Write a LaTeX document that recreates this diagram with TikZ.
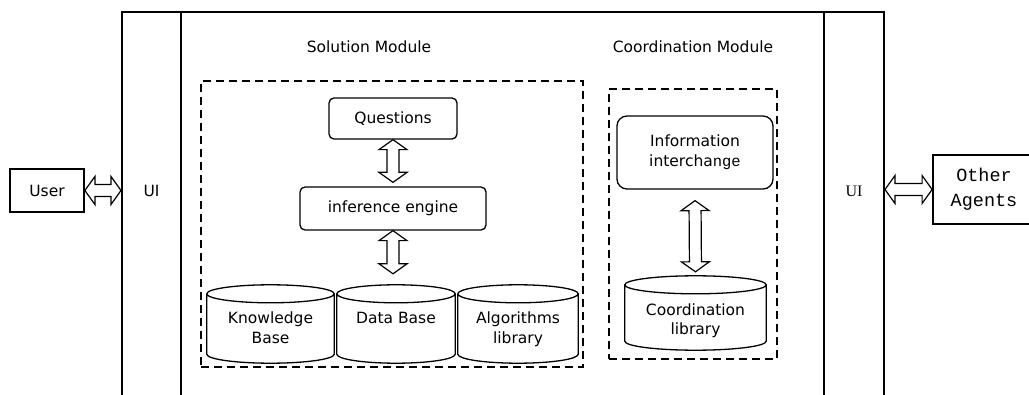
\documentclass[tikz,border=0pt]{standalone}
\usepackage{fontspec}
\setmainfont{DejaVu Sans}
\newfontfamily\simfont{Liberation Mono}
\newfontfamily\simserif{Liberation Serif}
\usetikzlibrary{calc}

\tikzset{
  frame/.style={draw, line width=2pt, inner sep=0pt},
  plainbox/.style={draw, line width=1.8pt, inner sep=0pt, fill=white},
  roundbox/.style={draw, line width=1.3pt, rounded corners=5pt, inner sep=0pt},
  dashbox/.style={draw, line width=1.6pt, dash pattern=on 8pt off 5pt, inner sep=0pt},
  cylbox/.style={inner sep=0pt},
  lbl/.style={font=\fontsize{15.5}{20}\selectfont, align=center, inner sep=0pt},
  cyltext/.style={lbl, anchor=north},
  cylline/.style={line width=1.3pt, fill=white},
  % hollow double-headed block arrow between two points
  barrow/.style={draw, line width=1.2pt, fill=white, line join=miter,
    to path={
      -- ($(\tikztostart)!10pt!(\tikztotarget)!14pt!90:(\tikztotarget)$)
      -- ($(\tikztostart)!10pt!(\tikztotarget)!6pt!90:(\tikztotarget)$)
      -- ($(\tikztotarget)!10pt!(\tikztostart)!6pt!-90:(\tikztostart)$)
      -- ($(\tikztotarget)!10pt!(\tikztostart)!14pt!-90:(\tikztostart)$)
      -- (\tikztotarget)
      -- ($(\tikztotarget)!10pt!(\tikztostart)!14pt!90:(\tikztostart)$)
      -- ($(\tikztotarget)!10pt!(\tikztostart)!6pt!90:(\tikztostart)$)
      -- ($(\tikztostart)!10pt!(\tikztotarget)!6pt!-90:(\tikztotarget)$)
      -- ($(\tikztostart)!10pt!(\tikztotarget)!14pt!-90:(\tikztotarget)$)
      -- cycle}},
}

% cylinder outline drawn over the bounding rectangle of a node
\newcommand\drawcyl[1]{%
  \draw[cylline] let \p1=(#1.north west), \p2=(#1.south east), \n1={(\x2-\x1)/2} in
    (\x1,\y1-9pt) -- (\x1,\y2+9pt)
    arc[start angle=180, end angle=360, x radius=\n1, y radius=9pt] -- (\x2,\y1-9pt)
    ({(\x1+\x2)/2},\y1-9pt) ellipse[x radius=\n1, y radius=9pt];}

\begin{document}
\begin{tikzpicture}[x=1pt, y=1pt]
\useasboundingbox (0,0) rectangle (1029,394);

% agent frame: two interface columns around the core
\node[frame, minimum width=59pt, minimum height=387pt] (uiL) at (151.5,188.5) {};
\node[frame, minimum width=643pt, minimum height=387pt] (core) at (502.5,188.5) {};
\node[frame, minimum width=60pt, minimum height=387pt] (uiR) at (854,188.5) {};
\node[lbl] (uiLt) at (151.5,203) {UI};
\node[lbl, font=\simserif\fontsize{16}{20}\selectfont] (uiRt) at (854,203) {UI};

% outside parties
\node[plainbox, lbl, minimum width=74pt, minimum height=43pt] (user) at (47,203.5) {User};
\node[plainbox, lbl, font=\simfont\fontsize{18.5}{25}\selectfont,
      minimum width=102pt, minimum height=69pt] (oa) at (984,204.5) {Other\\Agents};

\draw[barrow] (user.east) to (user.east -| uiL.west);
\draw[barrow] (oa.west -| uiR.east) to (oa.west);

% solution module
\node[lbl] (solt) at (369,347) {Solution Module};
\node[dashbox, minimum width=382pt, minimum height=286pt] (sol) at (392,170) {};
\node[roundbox, lbl, minimum width=128pt, minimum height=41pt] (q) at (393,275.5) {Questions};
\node[roundbox, lbl, minimum width=186pt, minimum height=43pt] (ie) at (393,185.5) {inference engine};

\node[cylbox, minimum width=127pt, minimum height=78pt] (kb) at (270.5,70) {};
\node[cylbox, minimum width=118pt, minimum height=78pt] (db) at (396,70) {};
\node[cylbox, minimum width=120pt, minimum height=78pt] (al) at (518,70) {};
\drawcyl{kb}
\drawcyl{db}
\drawcyl{al}
\node[cyltext] (kbt) at ($(kb.north)+(0,-27)$) {Knowledge\\Base};
\node[cyltext] (dbt) at ($(db.north)+(0,-27)$) {Data Base};
\node[cyltext] (alt) at ($(al.north)+(0,-27)$) {Algorithms\\library};

\coordinate (a1e) at ($(ie.north)+(0,4)$);
\coordinate (a2e) at ($(db.north -| ie.south)+(0,11)$);
\draw[barrow] (q.south) to (a1e);
\draw[barrow] (ie.south) to (a2e);

% coordination module
\node[lbl] (coot) at (693,347) {Coordination Module};
\node[dashbox, minimum width=168pt, minimum height=270pt] (coo) at (693,170) {};
\node[roundbox, rounded corners=10pt, lbl, minimum width=156pt, minimum height=73pt]
  (info) at (695,241.5) {Information\\intercha{\simfont nge}};
\node[cylbox, minimum width=141pt, minimum height=74pt] (cl) at (695.5,81) {};
\drawcyl{cl}
\node[cyltext, font=\fontsize{15.5}{19}\selectfont] (clt) at ($(cl.north)+(0,-28)$) {Coordination\\library};

\coordinate (a3s) at ($(info.south)+(0,-11)$);
\coordinate (a3e) at ($(cl.north)+(0,4)$);
\draw[barrow] (a3s) to (a3e);
\end{tikzpicture}
\end{document}
